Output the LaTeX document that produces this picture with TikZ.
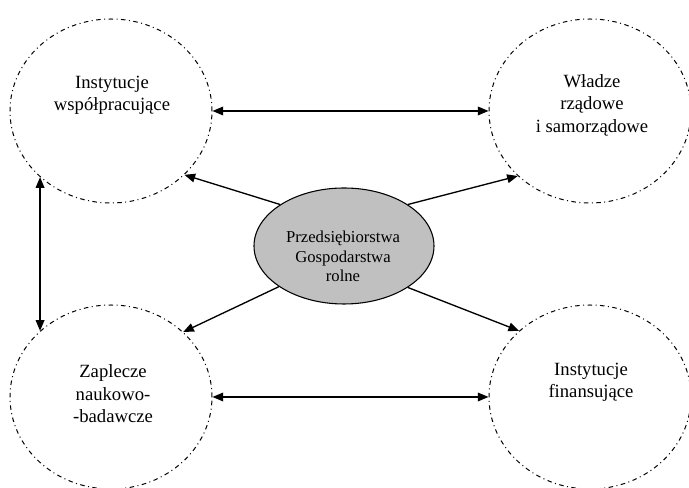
\documentclass[tikz,border=0pt]{standalone}
\usepackage{fontspec}
\setmainfont{Liberation Serif}
\usepackage{tikz}
\usepackage{xcolor}
\usetikzlibrary{shapes.geometric,arrows.meta}
\definecolor{firmgray}{RGB}{192,192,192}

\begin{document}
\begin{tikzpicture}
[
x=0.75pt, y=0.75pt,
partner/.style={ellipse, draw, line width=0.75pt, dash pattern=on 3.4pt off 2.6pt on 0.75pt off 2.6pt, minimum width=151.5pt, minimum height=138pt, inner sep=0pt},
firm/.style={ellipse, draw, line width=0.8pt, fill=firmgray, minimum width=135pt, minimum height=87pt, inner sep=0pt},
text-a/.style={align=center, font=\fontsize{14}{16.8}\selectfont},
text-b/.style={align=center, font=\fontsize{12.5}{14.5}\selectfont},
arr/.style={line width=1pt, -{Triangle[length=8pt, width=6.5pt]}},
arr-2/.style={line width=1pt, {Triangle[length=8pt, width=6.5pt]}-{Triangle[length=8pt, width=6.5pt]}}
]
\useasboundingbox (0,0) rectangle (689,488);
% partners
\node (inst)     [partner] at (111,377) {};
\node (wladze)   [partner] at (590,377) {};
\node (zaplecze) [partner] at (111,91)  {};
\node (finanse)  [partner] at (590,91)  {};
\node (firma)    [firm]    at (344,242) {};
% texts
\node (inst-t)     [text-a] at (112,392.5) {Instytucje\\współpracujące};
\node (wladze-t)   [text-a] at (592,383)   {Władze\\rządowe\\i samorządowe};
\node (zaplecze-t) [text-a] at (113,94)    {Zaplecze\\naukowo-\\-badawcze};
\node (finanse-t)  [text-a] at (591,105.5) {Instytucje\\finansujące};
\node (firma-t)    [text-b] at (343,231.5) {Przedsiębiorstwa\\Gospodarstwa\\rolne};
% links
\draw [arr-2] (inst.east)      -- (wladze.west);
\draw [arr-2] (zaplecze.east)  -- (finanse.west);
\draw [arr-2] (inst.223)       -- (zaplecze.137);
\draw [arr]   (firma.147)      -- (inst.-41);
\draw [arr]   (firma.33)       -- (wladze.222);
\draw [arr]   (firma.212)      -- (zaplecze.42.5);
\draw [arr]   (firma.-33)      -- (finanse.137);
\end{tikzpicture}
\end{document}
